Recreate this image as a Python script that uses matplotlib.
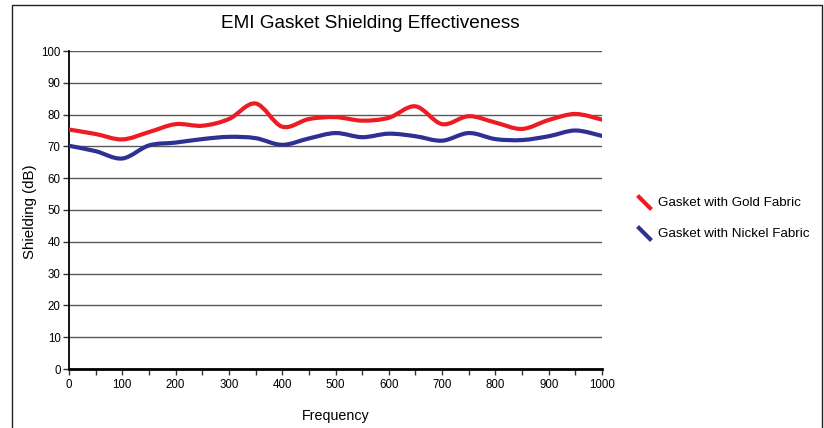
import matplotlib
matplotlib.use("Agg")
import matplotlib.pyplot as plt
import numpy as np
from matplotlib.path import Path
from matplotlib.patches import PathPatch
from matplotlib.lines import Line2D

plt.rcParams['font.family'] = ['Liberation Sans', 'DejaVu Sans']

freq = [0, 50, 100, 150, 200, 250, 300, 350, 400, 450, 500,
        550, 600, 650, 700, 750, 800, 850, 900, 950, 1000]
gold = [75.3, 73.9, 72.2, 74.5, 77.0, 76.5, 78.6, 83.5, 76.2, 78.6, 79.2,
        78.1, 79.0, 82.6, 77.0, 79.5, 77.5, 75.5, 78.3, 80.2, 78.4]
nickel = [70.2, 68.5, 66.2, 70.3, 71.2, 72.3, 73.0, 72.6, 70.5, 72.5, 74.2,
          72.9, 74.0, 73.2, 71.8, 74.2, 72.3, 72.0, 73.2, 75.0, 73.3]
series_names = ["Gasket with Gold Fabric", "Gasket with Nickel Fabric"]
colors = ["#ed1c24", "#2e3192"]

W, H = 824, 428
fig = plt.figure(figsize=(W / 100, H / 100), dpi=100)
ax = fig.add_axes([69 / W, 59 / H, (602 - 69) / W, (369 - 51) / H])


def smooth_path(xs, ys):
    pts = np.column_stack([xs, ys]).astype(float)
    n = len(pts)
    verts = [pts[0]]
    codes = [Path.MOVETO]
    for i in range(n - 1):
        p0 = pts[i - 1] if i > 0 else pts[i]
        p1 = pts[i]
        p2 = pts[i + 1]
        p3 = pts[i + 2] if i + 2 < n else pts[i + 1]
        c1 = p1 + (p2 - p0) / 6.0
        c2 = p2 - (p3 - p1) / 6.0
        verts += [c1, c2, p2]
        codes += [Path.CURVE4] * 3
    return Path(verts, codes)


for ys, c in zip([gold, nickel], colors):
    patch = PathPatch(smooth_path(freq, ys), facecolor='none', edgecolor=c,
                      lw=3.0, capstyle='round', joinstyle='round', zorder=3)
    ax.add_patch(patch)

ax.set_xlim(0, 1000)
ax.set_ylim(0, 100)
ax.set_xticks(np.arange(0, 1001, 100))
ax.set_xticks(np.arange(50, 1000, 100), minor=True)
ax.set_yticks(np.arange(0, 101, 10))
ax.yaxis.grid(True, color='#5a5a5a', lw=1.0)
ax.set_axisbelow(True)
for s in ['top', 'right']:
    ax.spines[s].set_visible(False)
ax.spines['left'].set_linewidth(1.3)
ax.spines['bottom'].set_linewidth(2.0)
ax.tick_params(axis='both', which='both', direction='out', length=4,
               width=1, labelsize=8.3, color='#333333')
ax.tick_params(axis='x', pad=3)
ax.tick_params(axis='y', pad=2)

fig.text(370 / W, 1 - 24 / H, "EMI Gasket Shielding Effectiveness",
         ha='center', va='center', fontsize=13.7)
fig.text(336 / W, 1 - 416 / H, "Frequency", ha='center', va='center', fontsize=10.3)
fig.text(30 / W, 1 - 212 / H, "Shielding (dB)", ha='center', va='center',
         rotation=90, fontsize=10.8)

# legend
leg_y = [203, 234]
for name, c, yy in zip(series_names, colors, leg_y):
    fig.add_artist(Line2D([639 / W, 650 / W], [1 - (yy - 6) / H, 1 - (yy + 5) / H],
                          color=c, lw=3.0, transform=fig.transFigure))
    fig.text(658 / W, 1 - yy / H, name, ha='left', va='center', fontsize=9.6)

# outer frame
fig.add_artist(Line2D([12 / W, 12 / W, 822 / W, 822 / W],
                      [0, 1 - 5 / H, 1 - 5 / H, 0], color='#222222', lw=1.0,
                      transform=fig.transFigure))

fig.savefig("out.png", dpi=100)
